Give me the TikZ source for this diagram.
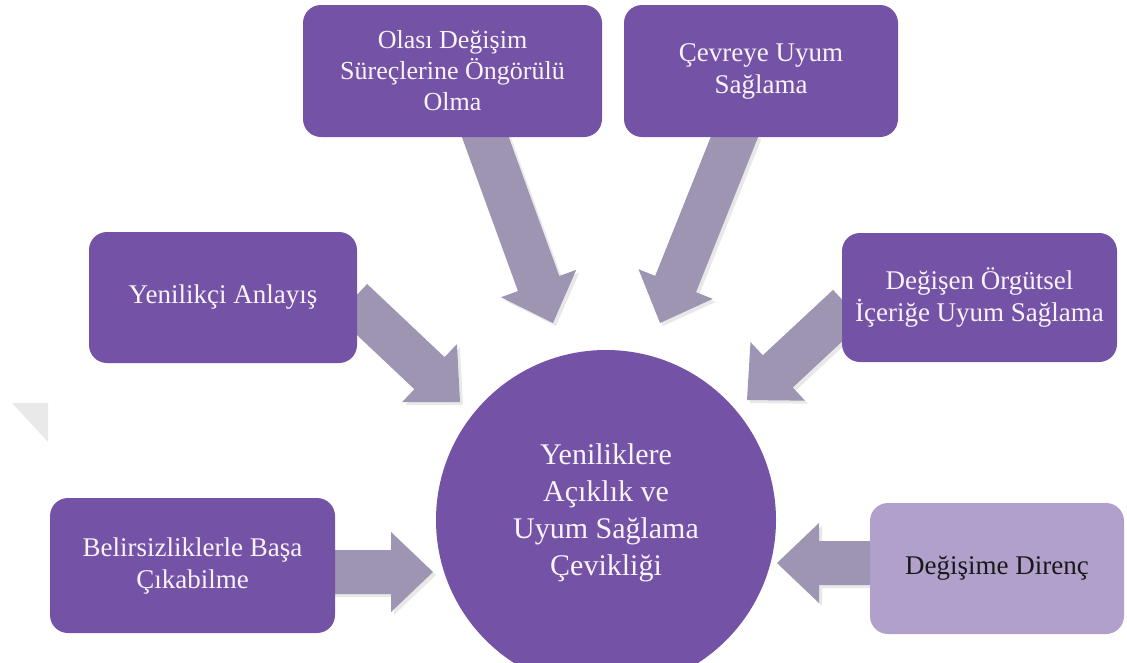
\documentclass[tikz,border=0pt]{standalone}
\usepackage{fontspec}
\setmainfont{Liberation Serif}
\usetikzlibrary{calc,shadows,backgrounds}
\definecolor{boxpurple}{RGB}{116,83,167}
\definecolor{palepurple}{RGB}{177,160,203}
\definecolor{arrowgray}{RGB}{157,149,178}
\definecolor{cornergray}{RGB}{233,233,233}
\definecolor{softwhite}{RGB}{250,244,250}

\tikzset{
  factor/.style={rounded corners=18pt, fill=boxpurple, text=softwhite, align=center,
    font=\fontsize{27}{32}\selectfont, inner sep=0pt},
  core/.style={circle, fill=boxpurple, text=softwhite, align=center,
    font=\fontsize{30}{37}\selectfont, minimum size=340pt, inner sep=0pt},
  arrowbody/.style={fill=arrowgray,
    drop shadow={shadow xshift=3pt, shadow yshift=-3pt, opacity=0.18}},
}

% thick block arrow from #1 to #2 (shaft 44pt, head 80pt wide, 42pt long)
\newcommand\blockarrow[2]{%
  \coordinate (hb) at ($(#2)!42pt!(#1)$);
  \fill[arrowbody] ($(#1)!22pt!90:(#2)$) -- ($(hb)!22pt!90:(#2)$)
    -- ($(hb)!40pt!90:(#2)$) -- (#2) -- ($(hb)!40pt!-90:(#2)$)
    -- ($(hb)!22pt!-90:(#2)$) -- ($(#1)!22pt!-90:(#2)$) -- cycle;}

\begin{document}
\begin{tikzpicture}[x=1pt,y=-1pt]
\useasboundingbox (0,0) rectangle (1127,662);

% faint corner mark on the left
\fill[cornergray] (12,403) -- (48,403) -- (48,442) -- cycle;

% factor boxes and the central circle
\node[factor, font=\fontsize{26}{31}\selectfont, minimum width=299pt, minimum height=132pt]
  (olasi) at (452.5,71) {Olası Değişim\\Süreçlerine Öngörülü\\Olma};
\node[factor, minimum width=274pt, minimum height=132pt] (cevre) at (761,71)
  {Çevreye Uyum\\Sağlama};
\node[factor, minimum width=268pt, minimum height=131pt] (yenilikci) at (223,297.5)
  {Yenilikçi Anlayış};
\node[factor, minimum width=275pt, minimum height=129pt] (orgutsel) at (979.5,297.5)
  {Değişen Örgütsel\\İçeriğe Uyum Sağlama};
\node[factor, minimum width=285pt, minimum height=135pt] (belirsiz) at (192.5,565.5)
  {Belirsizliklerle Başa\\Çıkabilme};
\node[factor, fill=palepurple, text=black!90, minimum width=254pt, minimum height=131pt]
  (direnc) at (997,568.5) {Değişime Direnç};
\node[core] (ceviklik) at (606,520) {};
\node[text=softwhite, align=center, font=\fontsize{30}{37}\selectfont]
  (cevlabel) at (606,513) {Yeniliklere\\Açıklık ve\\Uyum Sağlama\\Çevikliği};

% arrow end points
\coordinate (s1) at (482,128);  \coordinate (t1) at (553,323);
\coordinate (s2) at (738,128);  \coordinate (t2) at (660,323);
\coordinate (s3) at (352,300);  \coordinate (t3) at (460,402);
\coordinate (s4) at (848,306);  \coordinate (t4) at (747,400);
\coordinate (s5) at (330,572);  \coordinate (t5) at (433,572);
\coordinate (s6) at (875,563);  \coordinate (t6) at (777,563);

\begin{scope}[on background layer]
  \blockarrow{s1}{t1}
  \blockarrow{s2}{t2}
  \blockarrow{s3}{t3}
  \blockarrow{s4}{t4}
  \blockarrow{s5}{t5}
  \blockarrow{s6}{t6}
\end{scope}
\end{tikzpicture}
\end{document}
